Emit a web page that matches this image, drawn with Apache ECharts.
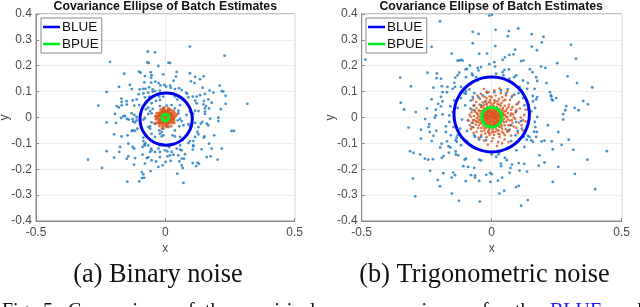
<!DOCTYPE html>
<html><head><meta charset="utf-8">
<style>html,body{margin:0;padding:0;background:#fff}#c{width:640px;height:307px}</style>
<script src="https://cdn.jsdelivr.net/npm/echarts@6/dist/echarts.min.js"></script>
</head><body><div id="c"></div>
<script>
const chartTitle = "Covariance Ellipse of Batch Estimates";
const captionA = "(a) Binary noise";
const captionB = "(b) Trigonometric noise";
const xTicksInterval = 0.5, yTicksInterval = 0.1;
const footerWords = ["Fig.","5:","Comparison","of","the","empirical","error","covariances","for","the","BLUE","and"];
const scatterBlueA = [[.095,.274],[-.068,.255],[-.040,.252],[.229,.239],[-.214,.215],[-.070,.213],[-.064,.211],[.012,.212],[.018,.211],[-.027,.199],[-.159,.169],[-.102,.177],[-.095,.173],[-.057,.175],[-.079,.160],[-.053,.164],[-.008,.167],[.044,.176],[.041,.158],[.095,.171],[.115,.157],[.148,.159],[.134,.148],[-.081,.136],[-.055,.154],[-.039,.139],[-.055,.135],[-.026,.133],[-.019,.124],[.032,.142],[.099,.140],[.113,.133],[-.137,.126],[-.130,.110],[-.179,.118],[-.099,.109],[-.086,.111],[-.077,.111],[-.063,.117],[-.049,.109],[-.004,.126],[.003,.119],[.018,.123],[.021,.115],[.037,.110],[.053,.113],[.063,.106],[.144,.115],[.210,.123],[.218,.102],[.224,.100],[.233,.084],[.171,.104],[.186,.096],[-.227,.099],[-.103,.090],[-.085,.093],[-.066,.096],[-.049,.100],[-.040,.102],[-.021,.104],[.080,.096],[.085,.091],[.134,.086],[.121,.081],[.106,.081],[.115,.065],[.089,.078],[.153,.091],[.166,.070],[-.170,.073],[-.169,.060],[-.149,.063],[-.126,.066],[-.111,.070],[-.079,.078],[-.062,.081],[-.024,.081],[-.008,.081],[.037,.081],[.046,.070],[.179,.057],[.149,.064],[.121,.055],[.157,.044],[-.259,.046],[.317,.053],[.233,.053],[-.188,.044],[-.180,.039],[-.149,.050],[-.169,.047],[-.120,.046],[-.101,.048],[-.072,.061],[-.053,.055],[-.021,.068],[-.036,.064],[.024,.048],[.005,.046],[.057,.048],[.147,.051],[.153,.035],[-.066,.038],[-.075,.032],[-.088,.042],[-.049,.033],[-.021,.044],[-.008,.035],[.037,.035],[.050,.026],[.115,.026],[.108,.014],[.128,.025],[.214,.032],[.169,.035],[.153,.023],[-.195,.014],[-.162,.005],[-.156,.006],[-.130,.016],[-.120,.010],[-.066,.014],[-.053,.016],[-.059,.025],[.050,.016],[.095,.023],[.082,.010],[.153,.014],[-.111,.001],
[-.227,-.019],[-.191,-.021],[-.171,-.002],[-.149,-.005],[-.142,-.008],[-.126,-.007],[-.124,-.016],[-.117,-.019],[-.079,-.002],[-.053,-.019],[-.066,-.037],[-.059,-.034],[-.108,-.043],[-.124,-.050],[-.117,-.052],[-.130,-.052],[-.146,-.069],[-.169,-.073],[-.198,-.065],[-.085,-.078],[-.085,-.091],[-.077,-.099],[-.079,-.108],[-.066,-.108],[-.143,-.101],[-.126,-.114],[-.120,-.120],[-.175,-.114],[-.227,-.130],[-.178,-.133],[-.198,-.155],[-.299,-.163],[-.143,-.150],[-.149,-.159],[-.117,-.157],[-.088,-.144],[-.066,-.154],[-.072,-.157],[-.053,-.166],[-.059,-.133],[-.055,-.120],[-.031,-.101],[-.023,-.050],[-.014,-.056],[-.008,-.043],[.012,-.037],[.037,-.050],[.054,-.034],[.070,-.030],[.089,-.026],[.095,-.034],[.128,-.037],[.124,-.056],[.128,-.065],[.115,-.075],[.095,-.091],[.089,-.099],[.108,-.108],[.143,-.017],[.160,-.024],[.166,-.030],[.205,-.014],[.205,-.001],[.151,-.073],[.149,-.078],[.169,-.101],[.189,-.069],[.256,-.052],[.265,-.052],[.218,-.120],[.179,-.120],[.140,-.123],[.160,-.153],[.175,-.150],[.202,-.163],[.106,-.124],[.108,-.111],[.076,-.142],[.063,-.159],[.072,-.159],[.054,-.170],[.050,-.146],[.031,-.144],[.024,-.133],[.008,-.150],[.001,-.172],[.021,-.168],[-.027,-.191],[-.010,-.185],[-.036,-.170],[-.079,-.178],[-.121,-.182],[-.091,-.211],[-.085,-.220],[-.082,-.233],[-.091,-.234],[-.057,-.207],[-.101,-.247],[-.147,-.248],[-.245,-.195],[.046,-.217],[.070,-.253],[.063,-.185],[.067,-.195],[.106,-.176],[.124,-.175],[.130,-.179],[.119,-.188],[-.021,-.153],[-.021,-.133],[-.001,-.127],[.008,-.131],[.018,-.146],[.044,-.120],[.057,-.108],[.063,-.127],[.057,-.124],[-.040,-.133],[-.053,-.127],[-.088,-.114],[-.081,-.104],[-.021,-.108],[-.027,-.120],[.015,-.114],[.108,-.091],[-.008,-.069],[-.021,-.063],[-.014,-.073],[-.049,-.091],[-.040,-.075],[-.053,-.063],[.037,-.073],[.028,-.069],[.057,-.075],[.067,-.086],[-.059,-.043],[-.085,-.008],[-.111,-.011],[-.040,-.024],[.057,-.005],[.063,-.014],[.048,-.011],[.115,-.021],[.137,-.024],[.173,-.005]];
const scatterRedA = [[.025,.004],[.022,.012],[.018,.018],[.012,.024],[.005,.026],[-.003,.027],[-.01,.025],[-.017,.02],[-.023,.014],[-.027,.006],[-.029,-.002],[-.026,-.01],[-.021,-.017],[-.015,-.022],[-.007,-.026],[.001,-.028],[.009,-.025],[.016,-.021],[.022,-.015],[.027,-.007],[.029,0],[.018,.005],[.014,.011],[.008,.016],[0,.018],[-.007,.016],[-.013,.011],[-.018,.004],[-.018,-.005],[-.013,-.012],[-.006,-.017],[.002,-.018],[.01,-.015],[.016,-.009],[.009,.002],[.004,.008],[-.004,.008],[-.009,.001],[-.006,-.007],[.002,-.009],[.008,-.005],[0,0],[-.04,-.023],[-.012,-.042],[.044,.012],[-.005,.038],[.012,.036],[-.033,.016],[.034,-.02],[.022,-.033],[-.022,-.032],[.035,.018],[-.036,-.006],[.02,.03],[-.018,.031],[.03,.026],[.003,-.036],[-.03,-.02],[.033,-.01],[.038,.003],[-.038,.005],[.012,.018],[-.012,.02],[-.02,.008],[-.022,-.008],[-.012,-.02],[.008,-.02],[.021,-.006],[.023,.008],[.006,.021],[-.005,.021],[-.025,.018],[.026,.018],[-.024,-.022],[.027,-.02],[.012,.03],[-.009,.032],[.008,-.032],[-.01,-.033],[.032,.008],[-.033,.003],[.032,-.005]];
const ellipseBlueA = [[.104,-.006],[.1006,.0202],[.0905,.0445],[.0744,.0654],[.0535,.0815],[.0292,.0916],[.003,.095],[-.0232,.0916],[-.0475,.0815],[-.0684,.0654],[-.0845,.0445],[-.0946,.0202],[-.098,-.006],[-.0946,-.0322],[-.0845,-.0565],[-.0684,-.0774],[-.0475,-.0935],[-.0232,-.1036],[.003,-.107],[.0292,-.1036],[.0535,-.0935],[.0744,-.0774],[.0905,-.0565],[.1006,-.0322],[.104,-.006]];
const ellipseGreenA = [[.013,0],[.0113,.0065],[.0065,.0113],[0,.013],[-.0065,.0113],[-.0113,.0065],[-.013,0],[-.0113,-.0065],[-.0065,-.0113],[0,-.013],[.0065,-.0113],[.0113,-.0065],[.013,0]];
const scatterBlueB = [[-.199,.372],[-.009,.394],[.001,.397],[-.486,.224],[.015,.339],[.102,.344],[.066,.334],[.062,.314],[-.073,.331],[-.050,.323],[.154,.322],[.199,.312],[-.073,.287],[.014,.276],[.090,.262],[.154,.274],[-.231,.273],[.193,.290],[.305,.281],[.174,.260],[-.048,.246],[-.018,.247],[-.154,.247],[.084,.244],[.068,.242],[.051,.232],[.324,.227],[.042,.223],[.010,.214],[-.009,.206],[-.041,.195],[-.054,.192],[-.131,.220],[-.125,.220],[-.118,.223],[-.084,.201],[-.112,.220],[-.095,.188],[-.100,.186],[.013,.197],[.049,.184],[.066,.186],[.042,.175],[.045,.163],[.017,.169],[.113,.218],[.122,.220],[.252,.210],[.190,.197],[.206,.192],[.147,.186],[.157,.175],[.292,.159],[.171,.156],[-.247,.173],[-.211,.170],[-.125,.173],[-.131,.163],[-.140,.154],[-.195,.150],[-.212,.152],[-.352,.154],[-.073,.163],[-.060,.156],[-.099,.156],[-.051,.182],[-.076,.169],[.068,.150],[.087,.156],[.094,.163],[.049,.150],[.120,.143],[.139,.133],[.175,.141],[.211,.133],[.328,.133],[-.311,.120],[-.224,.115],[-.192,.121],[-.144,.134],[-.170,.118],[-.141,.118],[-.118,.118],[-.150,.111],[-.080,.130],[-.054,.143],[.136,.111],[.107,.118],[.165,.111],[.387,.116],[-.189,.098],[.224,.098],[-.172,.098],[-.086,.109],[-.099,.102],[-.105,.094],[-.067,.094],[-.350,.057],[-.231,.070],[-.195,.080],[-.206,.053],[-.337,.031],[-.292,.021],[-.249,.035],[-.189,.062],[-.195,.043],[-.144,.066],[-.159,.043],[-.118,.075],[-.099,.092],[-.073,.079],[-.102,.047],[-.080,.066],[-.067,.047],[-.082,.034],[-.131,.037],[-.150,.021],[-.051,.078],[-.035,.085],[-.018,.096],[.010,.098],[.036,.105],[.062,.109],[.055,.092],[.087,.088],[.103,.094],[.077,.079],[.158,.083],[.175,.079],[.171,.070],[.159,.062],[.229,.082],[.231,.070],[.248,.075],[.228,.085],[.235,.066],[.287,.044],[.352,.064],[.370,.051],[.319,.037],[.334,.028],[.275,.013],[.283,.028],[.141,.049],[.167,.037],[.152,.024],[.175,.002],[.139,.031],[.094,.024],[-.215,.008],[-.067,.028],[-.041,.047],[-.026,.060],[.100,.053],[.120,.075],[.126,.047],[-.189,.012],[-.163,.008],[-.215,.030],
[-.320,-.039],[-.272,-.047],[-.240,-.026],[-.243,-.037],[-.213,-.051],[-.238,-.056],[-.224,-.071],[-.256,-.006],[-.219,-.001],[-.272,-.082],[-.231,-.091],[-.314,-.130],[-.301,-.137],[-.275,-.143],[-.257,-.159],[-.244,-.163],[-.226,-.161],[-.192,-.156],[-.185,-.149],[-.193,-.101],[-.198,-.116],[-.172,-.092],[-.166,-.111],[-.159,-.116],[-.165,-.136],[-.139,-.131],[-.138,-.143],[-.129,-.146],[-.099,-.159],[-.104,-.163],[-.048,-.163],[-.041,-.166],[-.237,-.206],[-.186,-.215],[-.303,-.236],[-.207,-.242],[-.199,-.266],[-.148,-.213],[-.141,-.223],[-.154,-.232],[-.109,-.188],[-.091,-.191],[-.067,-.195],[-.080,-.223],[-.064,-.224],[-.064,-.232],[-.100,-.246],[-.048,-.245],[-.021,-.222],[-.006,-.214],[0,-.219],[-.005,-.249],[-.294,-.305],[-.153,-.294],[-.126,-.322],[-.046,-.325],[.030,-.294],[.048,-.283],[.094,-.269],[.104,-.264],[.024,-.244],[.040,-.232],[.069,-.214],[.107,-.205],[.072,-.195],[.078,-.182],[.104,-.176],[.125,-.179],[.136,-.209],[.035,-.178],[.036,-.188],[.051,-.156],[.058,-.165],[.017,-.152],[.026,-.142],[.030,-.134],[0,-.143],[.184,-.146],[.203,-.174],[.181,-.186],[.235,-.123],[.269,-.106],[.314,-.125],[.368,-.163],[.443,-.130],[.256,-.191],[.320,-.218],[.235,-.249],[.398,-.277],[.139,-.319],[.113,-.341],[.275,-.008],[.296,-.086],[.231,-.092],[.192,-.092],[.203,-.089],[.159,-.094],[.171,-.075],[.145,-.075],[.152,-.088],[.126,-.114],[.095,-.127],[.103,-.091],[.075,-.091],[.135,-.086],[.139,-.071],[.216,-.030],[.163,-.055],[.174,-.056],[.256,-.056],[.166,-.017],[.168,-.037],[.123,-.075],[.129,-.052],[.116,-.043],[.100,-.052],[.091,-.069],[.062,-.052],[.075,-.030],[.068,-.047],[.094,-.017],[.113,-.014],[-.176,-.034],[-.157,-.069],[-.131,-.069],[-.138,-.088],[-.134,-.094],[-.118,-.107],[-.095,-.091],[-.064,-.075],[-.048,-.085],[-.121,-.043],[-.176,-.056],[-.147,-.037],[-.135,-.078],[-.163,-.017],[-.114,-.008],[-.091,-.011],[-.073,-.021],[-.095,-.052],[-.076,-.037],[-.067,-.069],[-.041,-.075],[-.022,-.088]];
const scatterRedB = [[0,0],[.005,.003],[-.004,.006],[.008,-.004],[-.007,-.006],[.002,.011],[-.011,.002],[.012,.006],[.003,-.012],[-.012,-.01],[.015,-.003],[-.002,.016],[.009,.014],[-.015,.009],[.017,.01],[-.018,-.002],[.007,-.018],[-.008,-.018],[.02,-.009],[-.02,.01],[.001,.021],[-.009,.02],[.012,.021],[.022,.003],[-.023,-.009],[.003,-.024],[-.014,-.02],[.019,-.017],[-.026,.004],[.026,.012],[-.005,.027],[.011,-.027],[.028,-.004],[-.019,.021],[.021,.021],[-.028,-.012],[-.003,-.03],[.03,.006],[-.03,.01],[.013,.029],[-.012,.03],[.02,-.026],[-.021,-.025],[.032,-.012],[-.033,-.003],[.004,.034],[-.004,-.036],[.029,.02],[-.029,.021],[.034,.002],[.016,-.033],[-.015,-.034],
[.042,.006],[.041,-.012],[.044,.018],[.038,.026],[.03,.034],[.02,.04],[.008,.044],[-.006,.045],[-.018,.041],[-.029,.036],[-.037,.027],[-.043,.015],[-.046,.002],[-.044,-.011],[-.04,-.023],[-.032,-.033],[-.021,-.04],[-.009,-.045],[.004,-.046],[.017,-.043],[.029,-.037],[.038,-.028],[.048,-.005],[.052,.01],[.05,.024],[.043,.037],[.034,.046],[.022,.052],[.009,.056],[-.004,.057],[-.017,.054],[-.03,.049],[-.041,.04],[-.05,.028],[-.055,.014],[-.057,-.002],[-.054,-.017],[-.049,-.03],[-.04,-.041],[-.028,-.05],[-.014,-.056],[0,-.058],[.014,-.055],[.027,-.05],[.04,-.043],[.05,-.03],[.056,-.016],[.06,.002],[.063,.017],[.058,.033],[.05,.045],[.037,.056],[.024,.063],[.01,.067],[-.006,.068],[-.021,.065],[-.035,.058],[-.047,.05],[-.058,.037],[-.065,.022],[-.068,.006],[-.066,-.01],[-.061,-.027],[-.052,-.041],[-.039,-.053],[-.025,-.062],[-.008,-.067],[.009,-.067],[.025,-.063],[.04,-.055],[.054,-.045],[.064,-.03],[.07,-.012],[.072,.008],
[.075,.03],[.066,.05],[.052,.068],[.04,.078],[.015,.085],[-.008,.082],[-.028,.08],[-.045,.072],[-.06,.06],[-.07,.045],[-.078,.02],[-.08,.003],[-.077,-.02],[-.07,-.038],[-.058,-.055],[-.04,-.068],[-.02,-.076],[.005,-.08],[.03,-.075],[.05,-.068],[.068,-.05],[.08,-.02],[.085,-.035],[.09,-.005],[.082,.012],[.092,.02],[.08,.04],[.07,.068],[.055,.085],[.035,.095],[.01,.105],[-.02,.1],[-.042,.092],[-.055,.085],[-.072,.07],[-.085,.01],[-.09,-.012],[-.084,-.03],[-.07,-.06],[-.05,-.078],[-.03,-.09],[0,-.092],[.025,-.095],[.05,-.085],[.075,-.07],[.095,-.04],[.105,-.02],[.1,-.06],[.115,-.03],[.12,-.01],[.13,-.015],[.125,.01],[.108,.035],[.095,.05],[.13,.03],[.105,.06],[.08,.085],[.06,.1],[.03,.112],[-.012,.098],[-.03,.11],[-.08,-.045],[.04,-.1],[.065,-.095],[-.015,-.105],[.02,-.11],[.095,.03],[.112,0],[.135,-.035],[.12,-.05],
[-.015,.03],[-.006,.03],[.004,.03],[.016,.03],[-.021,.024],[-.013,.024],[-.002,.024],[.007,.024],[.018,.024],[-.026,.018],[-.016,.018],[-.005,.018],[.006,.018],[.014,.018],[.027,.018],[-.03,.013],[-.021,.013],[-.01,.013],[.003,.013],[.012,.013],[.022,.013],[.031,.013],[-.035,.007],[-.024,.007],[-.015,.007],[-.006,.007],[.007,.007],[.019,.007],[.029,.007],[.036,.007],[-.032,.001],[-.025,.001],[-.013,.001],[-.005,.001],[.004,.001],[.012,.001],[.02,.001],[.033,.001],[-.036,-.005],[-.024,-.005],[-.015,-.005],[.001,-.005],[.012,-.005],[.022,-.005],[.037,-.005],[-.032,-.012],[-.02,-.012],[-.006,-.012],[.007,-.012],[.016,-.012],[.025,-.012],[.034,-.012],[-.027,-.018],[-.018,-.018],[-.003,-.018],[.013,-.018],[.024,-.018],[-.024,-.024],[-.009,-.024],[.007,-.024],[.015,-.024],[.026,-.024],[-.016,-.03],[-.008,-.03],[.005,-.03],[.014,-.03],[.024,-.03],
[.045,.012],[.055,.003],[.062,-.008],[.047,-.018],[.036,-.035],[.022,-.05],[.005,-.055],[-.012,-.05],[-.028,-.042],[-.045,-.02],[-.05,-.008],[-.052,.008],[-.045,.024],[-.035,.042],[-.02,.05],[-.01,.06],[.003,.05],[.015,.062],[.028,.05],[.042,.03],[.055,.025],[.065,.04],[-.06,-.015],[-.058,.018],[-.072,-.01],[-.075,.03],[-.02,.075],[0,.078],[.028,.072],[.045,.065],[.078,-.01],[.07,-.03],[.06,-.055],[.045,-.06],[.03,-.065],[-.01,-.06],[.085,0],[.075,.015]];
const ellipseBlueB = [[.145,.012],[.14,.0495],[.1256,.0845],[.1025,.1145],[.0725,.1376],[.0375,.152],[0,.157],[-.0375,.152],[-.0725,.1376],[-.1025,.1145],[-.1256,.0845],[-.14,.0495],[-.145,.012],[-.14,-.0255],[-.1256,-.0605],[-.1025,-.0905],[-.0725,-.1136],[-.0375,-.128],[0,-.133],[.0375,-.128],[.0725,-.1136],[.1025,-.0905],[.1256,-.0605],[.14,-.0255],[.145,.012]];
const ellipseGreenB = [[.038,.001],[.0367,.0108],[.0329,.02],[.0269,.0279],[.019,.0339],[.0098,.0377],[0,.039],[-.0098,.0377],[-.019,.0339],[-.0269,.0279],[-.0329,.02],[-.0367,.0108],[-.038,.001],[-.0367,-.0088],[-.0329,-.018],[-.0269,-.0259],[-.019,-.0319],[-.0098,-.0357],[0,-.037],[.0098,-.0357],[.019,-.0319],[.0269,-.0259],[.0329,-.018],[.0367,-.0088],[.038,.001]];

const tickColor = '#4a4a4a', boxColor = '#8a8a8a', gridLine = '#ededed';
const sans = '"Liberation Sans", Arial, sans-serif', serif = '"Liberation Serif", serif';
const axisBase = (name, gap, margin) => ({
  type:'value', name, nameLocation:'middle', nameGap:gap, nameMoveOverlap:false,
  nameTextStyle:{color:tickColor, fontSize:12, fontFamily:sans},
  axisLine:{onZero:false, lineStyle:{color:boxColor, width:1}},
  axisTick:{inside:true, length:3, lineStyle:{color:boxColor}},
  axisLabel:{color:tickColor, fontSize:12, fontFamily:sans, margin, hideOverlap:false, showMinLabel:true, showMaxLabel:true},
  splitLine:{show:true, lineStyle:{color:gridLine, width:1}}
});
const grids = [{left:36, top:14, width:258.7, height:207},{left:361.7, top:14, width:260, height:207}];
const lineS = (name, data, color, idx) => ({type:'line', name, data, xAxisIndex:idx, yAxisIndex:idx, smooth:true, showSymbol:false, symbol:'none', z:5,
  lineStyle:{color, width:3}, itemStyle:{color}});
const scatterS = (data, color, idx, z, size) => ({type:'scatter', data, xAxisIndex:idx, yAxisIndex:idx, symbolSize:size, z,
  itemStyle:{color}, silent:true});
const legend = (left) => ({left, top:18, orient:'vertical', data:['BLUE','BPUE'], icon:'rect', padding:[2,3,2,2], itemGap:3, itemWidth:17, itemHeight:2.5,
  textStyle:{fontSize:13.5, lineHeight:14, color:'#111', fontFamily:sans, padding:[0,0,0,-3]}, backgroundColor:'#fff', borderColor:'#8a8a8a', borderWidth:1, borderRadius:0});
const wordLeft = [2,43,68,178,205,240,328,377,482,515,550,613];
const chart = echarts.init(document.getElementById('c'), null, {renderer:'canvas'});
chart.setOption({
  animation:false, backgroundColor:'#fff',
  grid: grids.map(g=>({...g, outerBoundsMode:'none', show:true, backgroundColor:'#fff', borderColor:boxColor, borderWidth:1})),
  xAxis:[0,1].map(i=>({...axisBase('x',22,6), gridIndex:i, min:-.5, max:.5, interval:xTicksInterval})),
  yAxis:[0,1].map(i=>({...axisBase('y',25,4), gridIndex:i, min:-.4, max:.4, interval:yTicksInterval})),
  legend:[legend(41), legend(366)],
  series:[
    scatterS(scatterBlueA,'#1b78bd',0,2,2.8), scatterS(scatterRedA,'#d95319',0,3,3.2),
    lineS('BLUE',ellipseBlueA,'#0000f0',0), lineS('BPUE',ellipseGreenA,'#00f020',0),
    scatterS(scatterBlueB,'#1b78bd',1,2,2.8), scatterS(scatterRedB,'#d95319',1,3,2.6),
    lineS('BLUE',ellipseBlueB,'#0000f0',1), lineS('BPUE',ellipseGreenB,'#00f020',1)
  ],
  graphic:[
    {type:'text', x:165.3, y:1, style:{text:chartTitle, font:'bold 12.3px '+sans, fill:'#111', textAlign:'center'}},
    {type:'text', x:491.2, y:1, style:{text:chartTitle, font:'bold 12.3px '+sans, fill:'#111', textAlign:'center'}},
    {type:'text', x:158, y:262, style:{text:captionA, font:'26.3px '+serif, fill:'#111', textAlign:'center'}},
    {type:'text', x:484.5, y:262, style:{text:captionB, font:'26.3px '+serif, fill:'#111', textAlign:'center'}},
    ...footerWords.map((w,i)=>({type:'text', x:wordLeft[i], y:302, style:{text:w, font:'20px '+serif, fill:w==='BLUE'?'#1a1aff':'#111'}}))
  ]
});
</script></body></html>
